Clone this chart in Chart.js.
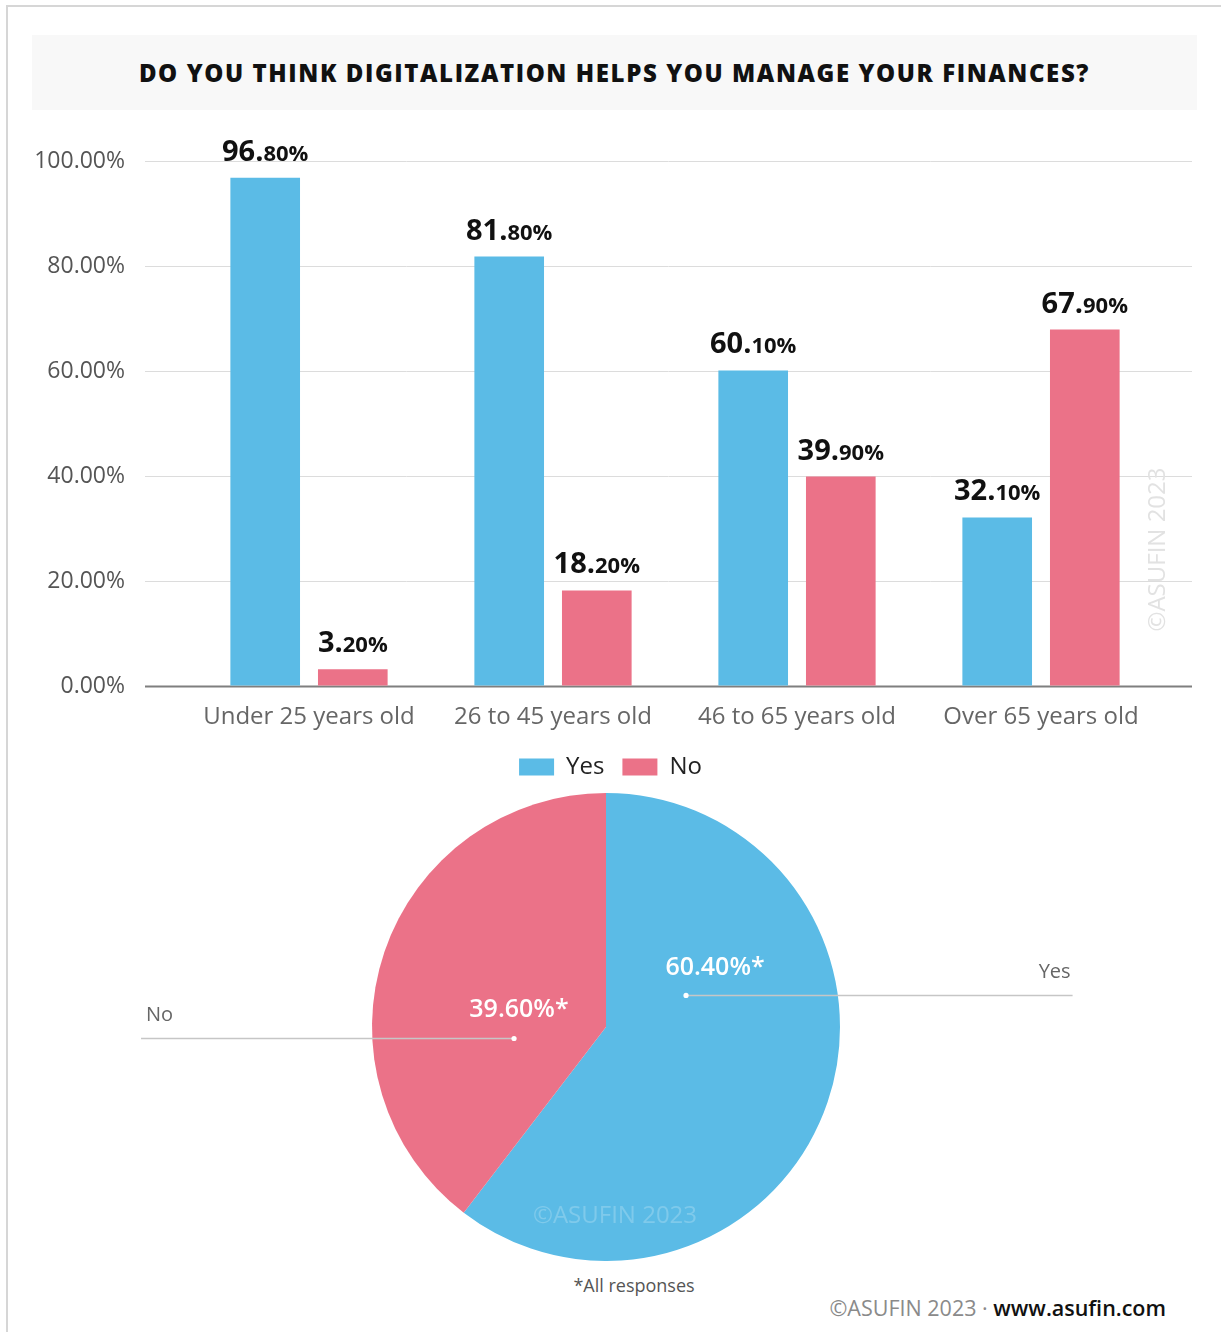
<!DOCTYPE html>
<html>
<head>
<meta charset="utf-8">
<script src="https://cdn.jsdelivr.net/npm/chart.js@4.4.0/dist/chart.umd.min.js"></script>
<style>
  html, body { margin: 0; padding: 0; background: #fff; }
  body { width: 1221px; height: 1332px; position: relative; overflow: hidden; font-family: 'Open Sans', sans-serif; }
  .frame { position: absolute; left: 6px; top: 5px; right: -2px; bottom: -2px; border-left: 2px solid #d6d6d6; border-top: 2px solid #d6d6d6; }
  .title { position: absolute; left: 32px; top: 35px; width: 1165px; height: 75px; background: #f8f8f8;
           display: flex; align-items: center; justify-content: center;
           font: 800 24px 'Open Sans', sans-serif; color: #111; letter-spacing: 1.6px; }
  #barWrap { position: absolute; left: 0; top: 120px; width: 1221px; height: 669px; }
  #pieWrap { position: absolute; left: 0; top: 793px; width: 1221px; height: 468px; }
  .note { position: absolute; left: 534px; top: 1273px; width: 200px; text-align: center; font: 400 18px 'Open Sans', sans-serif; color: #555; }
  .footer { position: absolute; right: 55px; top: 1293px; font: 400 21.5px 'Open Sans', sans-serif; color: #8a8a8a; white-space: nowrap; }
  .footer b { font-weight: 600; color: #111; }
</style>
</head>
<body>
<div class="frame"></div>
<div class="title">DO YOU THINK DIGITALIZATION HELPS YOU MANAGE YOUR FINANCES?</div>
<div id="barWrap"><canvas id="bars"></canvas></div>
<div id="pieWrap"><canvas id="pie"></canvas></div>
<div class="note">*All responses</div>
<div class="footer">©ASUFIN 2023 · <b>www.asufin.com</b></div>

<script>
// Age groups and answers (percent of respondents)
const ageGroups = ['Under 25 years old', '26 to 45 years old', '46 to 65 years old', 'Over 65 years old'];
const yesByAge = [96.8, 81.8, 60.1, 32.1];
const noByAge = [3.2, 18.2, 39.9, 67.9];
const yTicks = [0, 20, 40, 60, 80, 100];

// Overall answers
const overallLabels = ['Yes', 'No'];
const overallValues = [60.4, 39.6];

const BLUE = '#5bbbe6';
const PINK = '#eb7288';
const FONT = "'Open Sans', sans-serif";

// Horizontal gridlines, a little wider than the bar area
const gridPlugin = {
  id: 'wideGrid',
  beforeDatasetsDraw(chart) {
    const { ctx, chartArea, scales: { y } } = chart;
    ctx.save();
    yTicks.forEach(v => {
      const py = Math.round(y.getPixelForValue(v)) + 0.5;
      ctx.beginPath();
      ctx.moveTo(chartArea.left - 42, py);
      ctx.lineTo(chartArea.right + 29, py);
      ctx.strokeStyle = v === 0 ? '#7f7f7f' : '#dcdcdc';
      ctx.lineWidth = v === 0 ? 2 : 1;
      ctx.stroke();
    });
    ctx.restore();
  },
  afterDatasetsDraw(chart) {
    // value labels: whole part large, decimals smaller
    const { ctx } = chart;
    ctx.save();
    ctx.fillStyle = '#111';
    ctx.textBaseline = 'alphabetic';
    chart.data.datasets.forEach((ds, di) => {
      chart.getDatasetMeta(di).data.forEach((bar, i) => {
        const txt = ds.data[i].toFixed(2);
        const [whole, dec] = txt.split('.');
        const big = whole + '.';
        const small = dec + '%';
        ctx.font = `700 29px ${FONT}`;
        const wb = ctx.measureText(big).width;
        ctx.font = `700 22px ${FONT}`;
        const ws = ctx.measureText(small).width;
        const x0 = bar.x - (wb + ws) / 2;
        const by = bar.y - 17;
        ctx.font = `700 29px ${FONT}`;
        ctx.textAlign = 'left';
        ctx.fillText(big, x0, by);
        ctx.font = `700 22px ${FONT}`;
        ctx.fillText(small, x0 + wb, by);
      });
    });
    // vertical watermark
    const ca = chart.chartArea;
    ctx.translate(ca.right - 5, chart.scales.y.getPixelForValue(26));
    ctx.rotate(-Math.PI / 2);
    ctx.font = `400 24px ${FONT}`;
    ctx.fillStyle = '#e2e2e2';
    ctx.textAlign = 'center';
    ctx.textBaseline = 'middle';
    ctx.fillText('©ASUFIN 2023', 0, 0);
    ctx.restore();
  }
};

new Chart(document.getElementById('bars'), {
  type: 'bar',
  data: {
    labels: ageGroups,
    datasets: [
      { label: 'Yes', data: yesByAge, backgroundColor: BLUE, categoryPercentage: 0.718, barPercentage: 0.795 },
      { label: 'No', data: noByAge, backgroundColor: PINK, categoryPercentage: 0.718, barPercentage: 0.795 }
    ]
  },
  options: {
    responsive: true,
    maintainAspectRatio: false,
    animation: false,
    layout: { padding: { left: 0, right: 0, top: 41, bottom: 0 } },
    scales: {
      y: {
        min: 0, max: 100,
        afterFit(s) { s.width = 187; },
        afterBuildTicks(s) { s.ticks = yTicks.map(v => ({ value: v })); },
        // invisible tick marks push the labels away from the bars
        grid: { display: true, drawOnChartArea: false, drawTicks: true, tickLength: 62, color: 'rgba(0,0,0,0)' },
        border: { display: false },
        ticks: {
          padding: 0,
          color: '#555',
          font: { family: FONT, size: 23 },
          callback: v => v.toFixed(2) + '%'
        }
      },
      // empty right-hand margin so the legend stays centred on the page
      yRight: {
        position: 'right',
        afterFit(s) { s.width = 58; },
        grid: { display: false, drawTicks: false },
        border: { display: false },
        ticks: { display: false }
      },
      x: {
        afterFit(s) { s.height = 51; },
        grid: { display: false, drawTicks: false },
        border: { display: false },
        ticks: { padding: 17, color: '#666', font: { family: FONT, size: 24 }, maxRotation: 0 }
      }
    },
    plugins: {
      legend: {
        position: 'bottom',
        labels: { boxWidth: 35, boxHeight: 17, padding: 18, color: '#222', font: { family: FONT, size: 24 } }
      },
      tooltip: { enabled: false }
    }
  },
  plugins: [gridPlugin]
});

// Leader lines, percentages and names around the pie
const pieLabelPlugin = {
  id: 'pieLabels',
  afterDatasetsDraw(chart) {
    const { ctx } = chart;
    const arc = chart.getDatasetMeta(0).data[0];
    const cx = arc.x, cy = arc.y, r = arc.outerRadius;
    const spots = [
      { dot: [0.342, -0.137], end: 1.994, pct: [0.466, -0.252], name: 'right' },
      { dot: [-0.393, 0.047], end: -1.987, pct: [-0.372, -0.073], name: 'left' }
    ];
    ctx.save();
    spots.forEach((s, i) => {
      const dx = cx + s.dot[0] * r, dy = cy + s.dot[1] * r;
      const ex = cx + s.end * r;
      ctx.beginPath();
      ctx.moveTo(dx, dy + 0.5);
      ctx.lineTo(ex, dy + 0.5);
      ctx.strokeStyle = '#c6c6c6';
      ctx.lineWidth = 1.5;
      ctx.stroke();
      ctx.beginPath();
      ctx.arc(dx, dy + 0.5, 2.6, 0, Math.PI * 2);
      ctx.fillStyle = '#fff';
      ctx.fill();
      // percentage
      ctx.font = `600 25px ${FONT}`;
      ctx.fillStyle = '#fff';
      ctx.textAlign = 'center';
      ctx.textBaseline = 'middle';
      ctx.fillText(overallValues[i].toFixed(2) + '%*', cx + s.pct[0] * r, cy + s.pct[1] * r);
      // name above the line end
      ctx.font = `400 20px ${FONT}`;
      ctx.fillStyle = '#666';
      ctx.textBaseline = 'alphabetic';
      if (s.name === 'right') {
        ctx.textAlign = 'right';
        ctx.fillText(overallLabels[i], ex - 2, dy - 17);
      } else {
        ctx.textAlign = 'left';
        ctx.fillText(overallLabels[i], ex + 5, dy - 17);
      }
    });
    // watermark
    ctx.font = `400 24px ${FONT}`;
    ctx.fillStyle = 'rgba(255,255,255,0.22)';
    ctx.textAlign = 'center';
    ctx.textBaseline = 'middle';
    ctx.fillText('©ASUFIN 2023', cx + 9, cy + 0.808 * r);
    ctx.restore();
  }
};

new Chart(document.getElementById('pie'), {
  type: 'pie',
  data: {
    labels: overallLabels,
    datasets: [{ data: overallValues, backgroundColor: [BLUE, PINK], borderWidth: 0 }]
  },
  options: {
    responsive: true,
    maintainAspectRatio: false,
    animation: false,
    layout: { padding: { left: 372, right: 381, top: 0, bottom: 0 } },
    plugins: { legend: { display: false }, tooltip: { enabled: false } }
  },
  plugins: [pieLabelPlugin]
});
</script>
</body>
</html>
